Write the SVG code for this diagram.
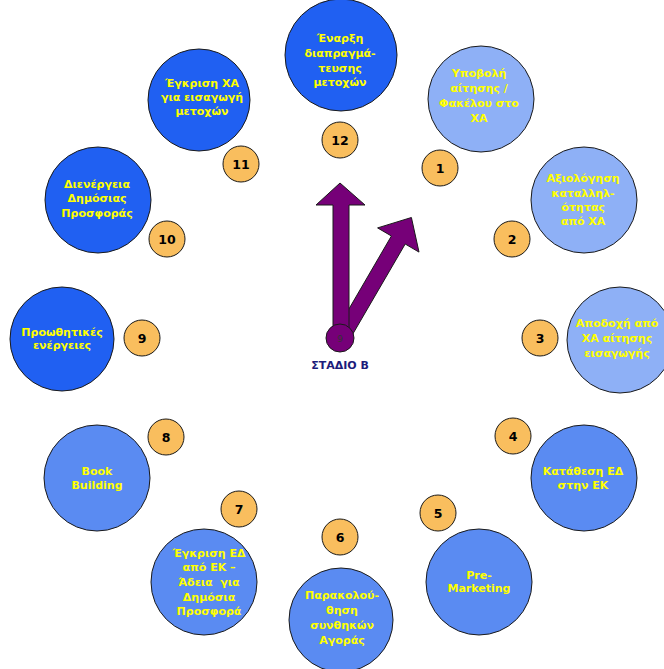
<svg xmlns="http://www.w3.org/2000/svg" width="664" height="669" viewBox="0 0 664 669">
  <style>
    .stage { stroke: #1a1a1a; stroke-width: 1; }
    .light { fill: #8EB0F6; }
    .mid { fill: #5A8BF2; }
    .dark { fill: #2060F2; }
    .label { font-family: "DejaVu Sans", Verdana, sans-serif; font-weight: bold; font-size: 11px; fill: #FFFF00; text-anchor: middle; white-space: pre; }
    .num circle { fill: #F9BE5E; stroke: #1a1a1a; stroke-width: 1; }
    .num text { font-family: "DejaVu Sans", Verdana, sans-serif; font-weight: bold; font-size: 12.5px; fill: #000; text-anchor: middle; }
    .hand { fill: #760078; stroke: #1a1a1a; stroke-width: 1; stroke-linejoin: miter; }
  </style>
  <rect width="664" height="669" fill="#ffffff"/>

  <!-- stage circles around the dial -->
  <g id="stage-12"><circle class="stage dark" cx="341" cy="55" r="56"/>
    <text class="label"><tspan x="340" y="42">Έναρξη</tspan><tspan x="340" y="57">διαπραγμά-</tspan><tspan x="340" y="72">τευσης</tspan><tspan x="340" y="86">μετοχών</tspan></text></g>
  <g id="stage-1"><circle class="stage light" cx="481" cy="99" r="53"/>
    <text class="label"><tspan x="479" y="77">Υποβολή</tspan><tspan x="479" y="92">αίτησης /</tspan><tspan x="479" y="107">Φακέλου στο</tspan><tspan x="479" y="122">ΧΑ</tspan></text></g>
  <g id="stage-2"><circle class="stage light" cx="584" cy="200" r="53"/>
    <text class="label"><tspan x="583" y="182">Αξιολόγηση</tspan><tspan x="583" y="197">καταλληλ-</tspan><tspan x="583" y="211">ότητας</tspan><tspan x="583" y="225">από ΧΑ</tspan></text></g>
  <g id="stage-3"><circle class="stage light" cx="620" cy="340" r="53"/>
    <text class="label"><tspan x="617" y="327">Αποδοχή από</tspan><tspan x="617" y="342">ΧΑ αίτησης</tspan><tspan x="617" y="357">εισαγωγής</tspan></text></g>
  <g id="stage-4"><circle class="stage mid" cx="584" cy="478" r="53"/>
    <text class="label"><tspan x="583" y="475">Κατάθεση ΕΔ</tspan><tspan x="583" y="489">στην ΕΚ</tspan></text></g>
  <g id="stage-5"><circle class="stage mid" cx="479" cy="582" r="53"/>
    <text class="label"><tspan x="479" y="579">Pre-</tspan><tspan x="479" y="592">Marketing</tspan></text></g>
  <g id="stage-6"><circle class="stage mid" cx="341" cy="620" r="52"/>
    <text class="label"><tspan x="342" y="599">Παρακολού-</tspan><tspan x="342" y="614">θηση</tspan><tspan x="342" y="629">συνθηκών</tspan><tspan x="342" y="644">Αγοράς</tspan></text></g>
  <g id="stage-7"><circle class="stage mid" cx="204" cy="582" r="53"/>
    <text class="label"><tspan x="209" y="557">Έγκριση ΕΔ</tspan><tspan x="209" y="571">από ΕΚ –</tspan><tspan x="209" y="586">Άδεια&#160; για</tspan><tspan x="209" y="601">Δημόσια</tspan><tspan x="209" y="615">Προσφορά</tspan></text></g>
  <g id="stage-8"><circle class="stage mid" cx="97" cy="478" r="53"/>
    <text class="label"><tspan x="97" y="475">Book</tspan><tspan x="97" y="489">Building</tspan></text></g>
  <g id="stage-9"><circle class="stage dark" cx="62" cy="339" r="52"/>
    <text class="label"><tspan x="62" y="336">Προωθητικές</tspan><tspan x="62" y="349">ενέργειες</tspan></text></g>
  <g id="stage-10"><circle class="stage dark" cx="98" cy="200" r="53"/>
    <text class="label"><tspan x="97" y="188">Διενέργεια</tspan><tspan x="97" y="202">Δημόσιας</tspan><tspan x="97" y="217">Προσφοράς</tspan></text></g>
  <g id="stage-11"><circle class="stage dark" cx="199" cy="100" r="51"/>
    <text class="label"><tspan x="202" y="87">Έγκριση ΧΑ</tspan><tspan x="202" y="101">για εισαγωγή</tspan><tspan x="202" y="115">μετοχών</tspan></text></g>

  <!-- hour markers -->
  <g id="num-12" class="num"><circle cx="340" cy="140" r="18"/><text x="340" y="145">12</text></g>
  <g id="num-1" class="num"><circle cx="440" cy="168" r="18"/><text x="440" y="173">1</text></g>
  <g id="num-2" class="num"><circle cx="512" cy="239" r="18"/><text x="512" y="244">2</text></g>
  <g id="num-3" class="num"><circle cx="540" cy="338" r="18"/><text x="540" y="343">3</text></g>
  <g id="num-4" class="num"><circle cx="513" cy="436" r="18"/><text x="513" y="441">4</text></g>
  <g id="num-5" class="num"><circle cx="438" cy="513" r="18"/><text x="438" y="518">5</text></g>
  <g id="num-6" class="num"><circle cx="340" cy="537" r="18"/><text x="340" y="542">6</text></g>
  <g id="num-7" class="num"><circle cx="239" cy="509" r="18"/><text x="239" y="514">7</text></g>
  <g id="num-8" class="num"><circle cx="166" cy="437" r="18"/><text x="166" y="442">8</text></g>
  <g id="num-9" class="num"><circle cx="142" cy="338" r="18"/><text x="142" y="343">9</text></g>
  <g id="num-10" class="num"><circle cx="167" cy="239" r="18"/><text x="167" y="244">10</text></g>
  <g id="num-11" class="num"><circle cx="241" cy="164" r="18"/><text x="241" y="169">11</text></g>

  <!-- clock hands -->
  <g id="hands">
    <polygon class="hand" points="336.1,331 391.4,236 377.6,227.9 411.4,217.5 419,252.1 405.2,244 349.9,339"/>
    <polygon class="hand" points="333,336 333,205 316,205 340,183 365,205 349,205 349,336"/>
  </g>
  <g id="pivot">
    <circle cx="340" cy="338" r="14" fill="#760078" stroke="#1a1a1a" stroke-width="1"/>
    <text x="340" y="342" font-family="'DejaVu Sans', sans-serif" font-size="9" fill="#333" text-anchor="middle">9</text>
    <text x="340" y="369" font-family="'DejaVu Sans', Verdana, sans-serif" font-weight="bold" font-size="11" fill="#1C1C7A" text-anchor="middle">ΣΤΑΔΙΟ Β</text>
  </g>
</svg>
